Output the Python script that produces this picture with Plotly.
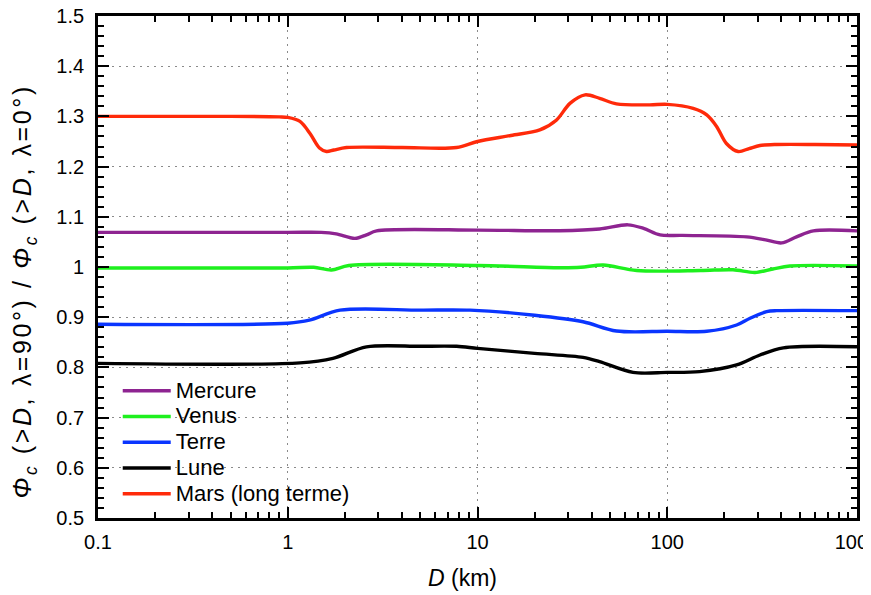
import plotly.graph_objects as go

# ---- data ----
mercure_D = [0.1, 1.0, 1.5, 1.8, 2.26, 2.6, 2.94, 10, 27, 44, 62, 75, 91.6, 120, 262, 330, 401, 480, 589, 1000]
mercure_v = [1.069, 1.069, 1.069, 1.066, 1.057, 1.064, 1.072, 1.0735, 1.0723, 1.0757, 1.084, 1.077, 1.064, 1.063, 1.060, 1.054, 1.048, 1.060, 1.072, 1.072]

venus_D = [0.1, 1.0, 1.37, 1.70, 2.1, 10, 27, 35, 46, 69, 150, 222, 290, 360, 443, 1000]
venus_v = [0.998, 0.998, 0.9994, 0.994, 1.003, 1.003, 0.9986, 0.9994, 1.004, 0.993, 0.993, 0.9945, 0.989, 0.996, 1.002, 1.002]

terre_D = [0.1, 1.0, 1.3, 1.886, 5, 9.13, 20, 36, 54, 100, 161.5, 232, 273, 334, 377, 1000]
terre_v = [0.886, 0.888, 0.894, 0.914, 0.914, 0.914, 0.904, 0.891, 0.8725, 0.872, 0.872, 0.8845, 0.898, 0.911, 0.913, 0.913]

lune_D = [0.1, 1.16, 1.73, 2.6, 5, 7.76, 10, 20, 36, 44, 66, 100, 148, 232, 308, 409, 1000]
lune_v = [0.808, 0.809, 0.818, 0.841, 0.842, 0.842, 0.838, 0.828, 0.820, 0.8114, 0.790, 0.790, 0.7915, 0.8048, 0.8247, 0.839, 0.841]

mars_D = [0.1, 0.5, 0.9, 1.0, 1.16, 1.31, 1.47, 1.6, 1.75, 2.04, 4, 7.76, 10, 15, 21.3, 26.1,
          30.7, 36.9, 44, 54, 81, 100, 137, 161.5, 182, 205, 236.6, 270, 308, 377, 600, 1000]
mars_v = [1.300, 1.300, 1.299, 1.298, 1.290, 1.266, 1.237, 1.230, 1.233, 1.238, 1.238, 1.238, 1.250, 1.262, 1.273, 1.293,
          1.326, 1.343, 1.336, 1.325, 1.323, 1.324, 1.316, 1.303, 1.280, 1.246, 1.230, 1.236, 1.242, 1.244, 1.244, 1.243]

series = [
    ("Mercure", mercure_D, mercure_v, "#8E2491"),
    ("Venus", venus_D, venus_v, "#1EF01E"),
    ("Terre", terre_D, terre_v, "#0A35FF"),
    ("Lune", lune_D, lune_v, "#000000"),
    ("Mars (long terme)", mars_D, mars_v, "#FF2A0A"),
]

x_ticks = [0.1, 1, 10, 100, 1000]
x_ticklabels = ["0.1", "1", "10", "100", "1000"]
x_minor = [m * 10.0 ** e for e in (-1, 0, 1, 2) for m in range(2, 10)]

x_title = "<i>D</i> (km)"
y_title = ('<span style="letter-spacing:2.6px"><i>Φ</i><sub><i>c</i></sub> (&gt;<i>D</i>, λ=90°) / '
           '<i>Φ</i><sub><i>c</i></sub> (&gt;<i>D</i>, λ=0°)</span>')

fig = go.Figure()
for name, xs, ys, col in series:
    fig.add_trace(go.Scatter(x=xs, y=ys, mode="lines",
                             name='<span style="font-size:22px">' + name + '</span>',
                             line=dict(color=col, width=3.4, shape="spline", smoothing=0.9)))

FONT = "Liberation Sans, Arial, Helvetica, sans-serif"
GRID = "#8a8a8a"

# the page body adds an 8px offset; the figure is sized/margined so the plot
# area lands at x 98..857, y 16..518 in the 871x595 window
fig.update_layout(
    width=871, height=587,
    margin=dict(l=90, r=22, t=8, b=77),
    paper_bgcolor="white", plot_bgcolor="white",
    font=dict(family=FONT, size=20, color="black"),
    showlegend=True,
    legend=dict(x=0.026, y=0.289, xanchor="left", yanchor="top",
                bgcolor="rgba(0,0,0,0)", font=dict(size=17.5, family=FONT),
                tracegroupgap=0, itemwidth=48),
    annotations=[
        dict(text=x_title, xref="paper", yref="paper", x=0.4796, y=-0.1195,
             xanchor="center", yanchor="middle", showarrow=False,
             font=dict(size=23, family=FONT)),
        dict(text=y_title, xref="paper", yref="paper", x=-0.0975, y=0.451,
             xanchor="center", yanchor="middle", showarrow=False, textangle=-90,
             font=dict(size=25, family=FONT)),
    ],
)

fig.update_xaxes(
    type="log", range=[-1, 3], autorange=False,
    tickvals=x_ticks, ticktext=x_ticklabels, ticklabeloverflow="allow",
    ticks="inside", ticklen=11, tickwidth=2.2, tickcolor="black",
    minor=dict(tickvals=x_minor, ticks="inside", ticklen=6, tickwidth=1.6, tickcolor="black", showgrid=False),
    showline=True, linewidth=2.8, linecolor="black", mirror="allticks",
    showgrid=True, gridcolor=GRID, gridwidth=1, griddash="2px,5px",
    zeroline=False, automargin=False,
    tickfont=dict(size=20, family=FONT), ticklabelstandoff=4,
)

fig.update_yaxes(
    range=[0.5, 1.5], autorange=False,
    dtick=0.1, tick0=0.5, ticklabeloverflow="allow",
    ticks="inside", ticklen=11, tickwidth=2.2, tickcolor="black",
    minor=dict(ticks="inside", ticklen=6, tickwidth=1.6, tickcolor="black", dtick=0.02, showgrid=False),
    showline=True, linewidth=2.8, linecolor="black", mirror="allticks",
    showgrid=True, gridcolor=GRID, gridwidth=1, griddash="2px,5px",
    zeroline=False, automargin=False,
    tickfont=dict(size=20, family=FONT), ticklabelstandoff=7,
)

fig.write_html("out.html")
